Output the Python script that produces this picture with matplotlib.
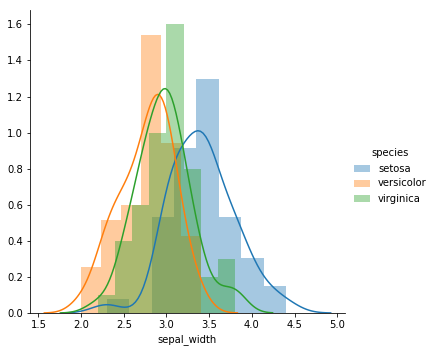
import numpy as np
import matplotlib
matplotlib.use("Agg")
import matplotlib.pyplot as plt
from matplotlib.patches import Patch

species = ["setosa", "versicolor", "virginica"]
setosa = [3.5, 3.0, 3.2, 3.1, 3.6, 3.9, 3.4, 3.4, 2.9, 3.1, 3.7, 3.4, 3.0, 3.0, 4.0,
          4.4, 3.9, 3.5, 3.8, 3.8, 3.4, 3.7, 3.6, 3.3, 3.4, 3.0, 3.4, 3.5, 3.4, 3.2,
          3.1, 3.4, 4.1, 4.2, 3.1, 3.2, 3.5, 3.1, 3.0, 3.4, 3.5, 2.3, 3.2, 3.5, 3.8,
          3.0, 3.8, 3.2, 3.7, 3.3]
versicolor = [3.2, 3.2, 3.1, 2.3, 2.8, 2.8, 3.3, 2.4, 2.9, 2.7, 2.0, 3.0, 2.2, 2.9, 2.9,
              3.1, 3.0, 2.7, 2.2, 2.5, 3.2, 2.8, 2.5, 2.8, 2.9, 3.0, 2.8, 3.0, 2.9, 2.6,
              2.4, 2.4, 2.7, 2.7, 3.0, 3.4, 3.1, 2.3, 3.0, 2.5, 2.6, 3.0, 2.6, 2.3, 2.7,
              3.0, 2.9, 2.9, 2.5, 2.8]
virginica = [3.3, 2.7, 3.0, 2.9, 3.0, 3.0, 2.5, 2.9, 2.5, 3.6, 3.2, 2.7, 3.0, 2.5, 2.8,
             3.2, 3.0, 3.8, 2.6, 2.2, 3.2, 2.8, 2.8, 2.7, 3.3, 3.2, 2.8, 3.0, 2.8, 3.0,
             2.8, 3.8, 2.8, 2.8, 2.6, 3.0, 3.4, 3.1, 3.0, 3.1, 3.1, 3.1, 2.7, 3.2, 3.3,
             3.0, 2.5, 3.0, 3.4, 3.0]
data = [setosa, versicolor, virginica]
colors = ["#1f77b4", "#ff7f0e", "#2ca02c"]
xticks = [1.5, 2.0, 2.5, 3.0, 3.5, 4.0, 4.5, 5.0]
yticks = [0.0, 0.2, 0.4, 0.6, 0.8, 1.0, 1.2, 1.4, 1.6]


def fd_bins(a):
    a = np.asarray(a)
    q75, q25 = np.percentile(a, [75, 25])
    h = 2 * (q75 - q25) / len(a) ** (1 / 3)
    return min(int(np.ceil((a.max() - a.min()) / h)), 50)


def kde(a, gridsize=100, cut=3):
    a = np.asarray(a)
    bw = a.std(ddof=1) * len(a) ** (-1 / 5)
    grid = np.linspace(a.min() - cut * bw, a.max() + cut * bw, gridsize)
    dens = np.exp(-0.5 * ((grid[:, None] - a[None, :]) / bw) ** 2).sum(1)
    dens /= len(a) * bw * np.sqrt(2 * np.pi)
    return grid, dens


plt.rcParams["font.family"] = "DejaVu Sans"
plt.rcParams["font.size"] = 10
fig = plt.figure(figsize=(435 / 72, 352 / 72), dpi=72)
ax = fig.add_axes([30 / 435, 39 / 352, 315 / 435, 303 / 352])

for vals, c in zip(data, colors):
    ax.hist(vals, bins=fd_bins(vals), density=True, color=c, alpha=0.4)
    g, d = kde(vals)
    ax.plot(g, d, color=c, lw=1.5)

ax.set_xticks(xticks)
ax.set_yticks(yticks)
ax.set_xlabel("sepal_width")
for s in ["top", "right"]:
    ax.spines[s].set_visible(False)

handles = [Patch(facecolor=c, alpha=0.4) for c in colors]
fig.legend(handles, species, title="species", frameon=False,
           loc="center left", bbox_to_anchor=(345 / 435, 176 / 352),
           handlelength=1.6, handleheight=0.7)
fig.savefig("out.png", dpi=72)
